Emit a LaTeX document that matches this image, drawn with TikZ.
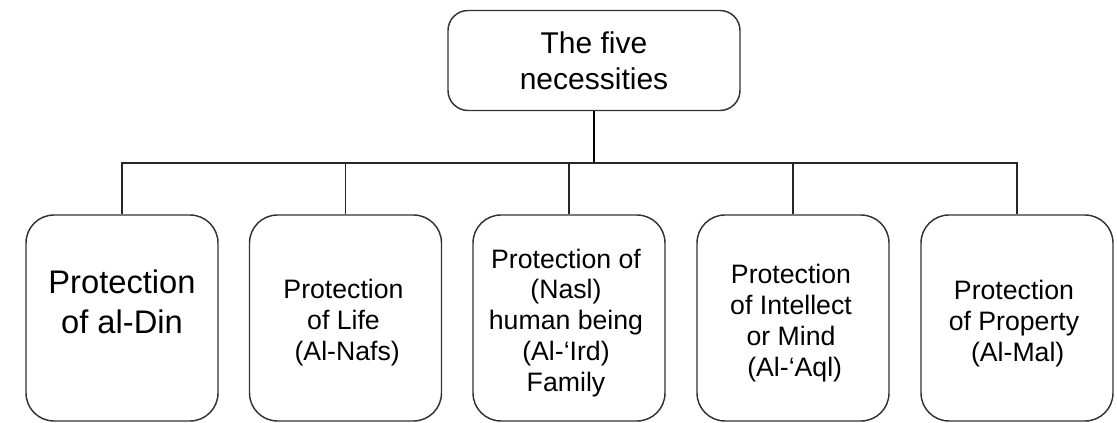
\documentclass[tikz,border=0pt]{standalone}
\usepackage{fontspec}
\setmainfont{Liberation Sans}
\begin{document}
\begin{tikzpicture}[x=0.75pt,y=-0.75pt,
  topbox/.style={draw=black!80, line width=1.1pt, rounded corners=15pt,
    minimum width=219pt, minimum height=75pt, inner sep=0pt,
    align=center, font=\fontsize{22.5}{27}\selectfont},
  itembox/.style={draw=black!80, line width=1.1pt, rounded corners=21pt,
    minimum width=144pt, minimum height=154.5pt, inner sep=0pt},
  itemtext/.style={align=center, inner sep=0pt, font=\fontsize{20}{23.2}\selectfont},
  bigtext/.style={align=center, inner sep=0pt, font=\fontsize{24.5}{30}\selectfont},
  link/.style={draw=black!85, line width=0.8pt},
  stem/.style={draw=black, line width=1.5pt}]
\useasboundingbox (0,0) rectangle (1117,423);

% root
\node[topbox] (root) at (594,60.5) {The five\\necessities};

% the five branches
\node[itembox] (b1) at (122,318) {};
\node[itembox] (b2) at (345.5,318) {};
\node[itembox] (b3) at (569,318) {};
\node[itembox] (b4) at (793,318) {};
\node[itembox] (b5) at (1017,318) {};

\node[bigtext]  (t1) at (122,302) {Protection\\of al-Din};
\node[itemtext] (t2) at (343.5,323) {Protection\\of Life\\\ (Al-Nafs)};
\node[itemtext] (t3) at (566,323) {Protection of\\(Nasl)\\human being\\(Al-‘Ird)\\Family};
\node[itemtext] (t4) at (791,323) {Protection\\of Intellect\\or Mind\\\ (Al-‘Aql)};
\node[itemtext] (t5) at (1014,324) {Protection\\of Property\\\ (Al-Mal)};

% connectors
\coordinate (bus) at (594,163);
\draw[stem] (root.south) -- (bus);
\draw[link] (b1.north) |- (bus) -| (b5.north);
\foreach \b in {b2,b3,b4}
  \draw[link] (\b.north) -- (\b.north |- bus);
\end{tikzpicture}
\end{document}
